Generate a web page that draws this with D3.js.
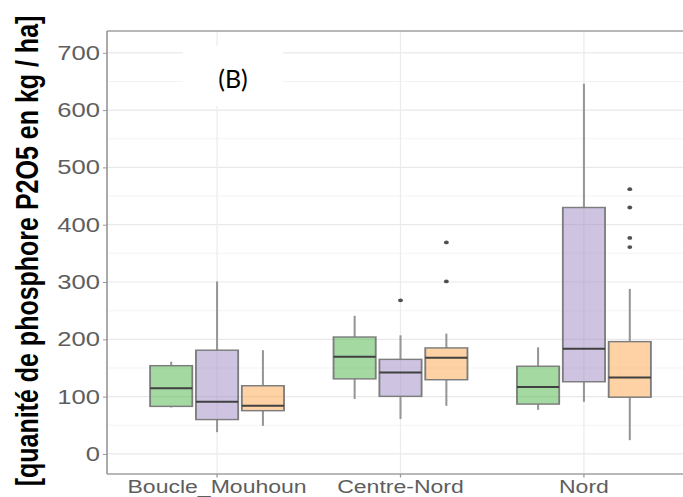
<!DOCTYPE html>
<html>
<head>
<meta charset="utf-8">
<script src="https://cdn.jsdelivr.net/npm/d3@7/dist/d3.min.js"></script>
<style>
  html, body { margin: 0; padding: 0; background: #fff; }
  svg { display: block; }
</style>
</head>
<body>
<script>
// Zones (x axis categories)
const categories = ["Boucle_Mouhoun", "Centre-Nord", "Nord"];

// Three fill groups, dodged inside each zone
const groups = ["groupe1", "groupe2", "groupe3"];
const groupColors = ["#4ab444", "#9d89c5", "#fda549"];

// Box statistics per zone: [whisker low, Q1, median, Q3, whisker high]
const statsGroupe1 = [[81, 83, 114.5, 154, 161], [96, 131, 169.5, 204, 241], [77, 87, 117, 153, 186]];
const statsGroupe2 = [[38, 60, 91, 181, 301], [61, 100.5, 142, 165, 207], [91, 126, 183.5, 430, 646]];
const statsGroupe3 = [[49, 75.5, 84, 119, 181], [84, 129.5, 168, 185, 210], [24, 99, 133.5, 196, 288]];

// Outlying points per zone
const outliersGroupe1 = [[], [], []];
const outliersGroupe2 = [[], [268], []];
const outliersGroupe3 = [[], [301, 369], [361, 377, 430, 462]];

// Y axis ticks
const yTicks = [0, 100, 200, 300, 400, 500, 600, 700];
const yMinorTicks = [50, 150, 250, 350, 450, 550, 650];

const yTitle = "[quanité de phosphore P2O5 en kg / ha]";
const panelTag = "(B)";

// ---------------------------------------------------------------
const W = 683, H = 497;
const sx = 1.28;                  // horizontal stretch of the whole figure
const pLeft = 107 / sx, pRight = 694 / sx, pTop = 31, pBottom = 474;

const svg = d3.select("body").append("svg")
  .attr("width", W).attr("height", H)
  .attr("viewBox", `0 0 ${W} ${H}`);

const g = svg.append("g").attr("transform", `scale(${sx},1)`);

const x = d3.scaleBand().domain(categories).range([pLeft, pRight])
  .paddingInner(0).paddingOuter(0.1);
const y = d3.scaleLinear().domain([-35, 738]).range([pBottom, pTop]);

const span = x.step() * 0.75;
const xg = d3.scaleBand().domain(groups).range([-span / 2, span / 2])
  .paddingInner(0.08).paddingOuter(0.04);

// grid
const grid = g.append("g");
grid.selectAll("line.minor").data(yMinorTicks).join("line")
  .attr("class", "minor")
  .attr("x1", pLeft).attr("x2", pRight)
  .attr("y1", d => y(d)).attr("y2", d => y(d))
  .attr("stroke", "#f3f3f3").attr("stroke-width", 1);
grid.selectAll("line.major").data(yTicks).join("line")
  .attr("class", "major")
  .attr("x1", pLeft).attr("x2", pRight)
  .attr("y1", d => y(d)).attr("y2", d => y(d))
  .attr("stroke", "#e9e9e9").attr("stroke-width", 1.2);
grid.selectAll("line.vmajor").data(categories).join("line")
  .attr("class", "vmajor")
  .attr("x1", d => x(d) + x.bandwidth() / 2).attr("x2", d => x(d) + x.bandwidth() / 2)
  .attr("y1", pTop).attr("y2", pBottom)
  .attr("stroke", "#ececec").attr("stroke-width", 1);

// boxes
const allStats = [statsGroupe1, statsGroupe2, statsGroupe3];
const allOutliers = [outliersGroupe1, outliersGroupe2, outliersGroupe3];

groups.forEach((grp, gi) => {
  categories.forEach((cat, ci) => {
    const [lo, q1, med, q3, hi] = allStats[gi][ci];
    const x0 = x(cat) + x.bandwidth() / 2 + xg(grp);
    const bw = xg.bandwidth();
    const cx = x0 + bw / 2;
    const b = g.append("g");
    b.append("line").attr("x1", cx).attr("x2", cx)
      .attr("y1", y(q3)).attr("y2", y(hi))
      .attr("stroke", "#969696").attr("stroke-width", 1.6);
    b.append("line").attr("x1", cx).attr("x2", cx)
      .attr("y1", y(q1)).attr("y2", y(lo))
      .attr("stroke", "#969696").attr("stroke-width", 1.6);
    b.append("rect")
      .attr("x", x0).attr("width", bw)
      .attr("y", y(q3)).attr("height", y(q1) - y(q3))
      .attr("fill", groupColors[gi]).attr("fill-opacity", 0.5)
      .attr("stroke", "#7d7d7d").attr("stroke-width", 1.45);
    b.append("line").attr("x1", x0).attr("x2", x0 + bw)
      .attr("y1", y(med)).attr("y2", y(med))
      .attr("stroke", "#404040").attr("stroke-width", 2);
    b.selectAll("circle").data(allOutliers[gi][ci]).join("circle")
      .attr("cx", cx).attr("cy", d => y(d)).attr("r", 1.9)
      .attr("fill", "#505050");
  });
});

// panel border (top and bottom; left side drawn by the axis)
g.append("line").attr("x1", pLeft).attr("x2", pRight).attr("y1", pTop).attr("y2", pTop)
  .attr("stroke", "#a0a0a0").attr("stroke-width", 1.3);
g.append("line").attr("x1", pLeft).attr("x2", pRight).attr("y1", pBottom).attr("y2", pBottom)
  .attr("stroke", "#a0a0a0").attr("stroke-width", 1.3);

// y axis
const yAxis = g.append("g").attr("transform", `translate(${pLeft},0)`)
  .call(d3.axisLeft(y).tickValues(yTicks).tickSize(3.2).tickPadding(2.3));
yAxis.select(".domain").attr("stroke", "#999").attr("stroke-width", 1.3)
  .attr("d", `M0,${pTop}V${pBottom}`);
yAxis.selectAll(".tick line").attr("stroke", "#999").attr("stroke-width", 1);
yAxis.selectAll(".tick text")
  .attr("font-family", "'Liberation Sans', Arial, sans-serif")
  .attr("font-size", 20).attr("fill", "#5e5e5e");

// x axis
const xAxis = g.append("g").attr("transform", `translate(0,${pBottom})`)
  .call(d3.axisBottom(x).tickSize(3.5).tickPadding(2.4));
xAxis.select(".domain").remove();
xAxis.selectAll(".tick line").attr("stroke", "#999").attr("stroke-width", 1);
xAxis.selectAll(".tick text")
  .attr("font-family", "'Liberation Sans', Arial, sans-serif")
  .attr("font-size", 18).attr("fill", "#5e5e5e");

// y title
g.append("text")
  .attr("transform", `translate(29.5,251) rotate(-90)`)
  .attr("text-anchor", "middle")
  .attr("font-family", "'Liberation Sans', Arial, sans-serif")
  .attr("font-weight", "bold").attr("font-size", 25).attr("fill", "#000")
  .text(yTitle);

// panel tag on a white patch
svg.append("rect").attr("x", 183).attr("y", 46).attr("width", 100).attr("height", 60)
  .attr("fill", "#fff");
svg.append("text").attr("x", 233).attr("y", 88)
  .attr("text-anchor", "middle")
  .attr("font-family", "Lato, 'Open Sans', sans-serif")
  .attr("font-size", 25).attr("fill", "#000")
  .text(panelTag);
</script>
</body>
</html>
